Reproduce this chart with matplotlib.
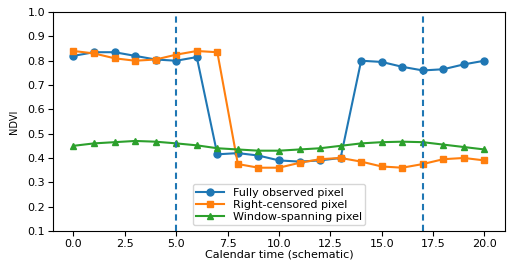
import numpy as np
import matplotlib
matplotlib.use("Agg")
import matplotlib.pyplot as plt

t = np.arange(21)

fully_observed = [0.82, 0.835, 0.835, 0.82, 0.805, 0.80, 0.815, 0.415, 0.42, 0.41, 0.39,
                  0.385, 0.39, 0.40, 0.80, 0.795, 0.775, 0.76, 0.765, 0.785, 0.80]
right_censored = [0.84, 0.83, 0.81, 0.80, 0.805, 0.825, 0.84, 0.835, 0.375, 0.36, 0.36,
                  0.38, 0.395, 0.40, 0.385, 0.365, 0.36, 0.375, 0.395, 0.40, 0.39]
window_spanning = [0.45, 0.46, 0.465, 0.47, 0.467, 0.46, 0.452, 0.44, 0.435, 0.43, 0.43,
                   0.435, 0.44, 0.45, 0.46, 0.465, 0.467, 0.465, 0.455, 0.445, 0.435]
window_edges = [5, 17]

fig = plt.figure(figsize=(5.19, 2.63), dpi=100)
ax = fig.add_axes([0.102, 0.122, 0.871, 0.832])

ax.plot(t, fully_observed, marker="o", markersize=5, label="Fully observed pixel")
ax.plot(t, right_censored, marker="s", markersize=5, label="Right-censored pixel")
ax.plot(t, window_spanning, marker="^", markersize=5, label="Window-spanning pixel")
for x in window_edges:
    ax.axvline(x, color="C0", linestyle=(0, (3, 2)), linewidth=1.5)

ax.set_ylim(0.1, 1.0)
ax.set_yticks(np.arange(0.1, 1.01, 0.1))
ax.tick_params(labelsize=8, pad=2)
ax.set_xlabel("Calendar time (schematic)", fontsize=8, labelpad=1)
ax.set_ylabel("NDVI", fontsize=7, labelpad=6)
ax.legend(loc="lower center", fontsize=8, handlelength=2.5, borderpad=0.3, labelspacing=0.2)

fig.savefig("out.png", dpi=100)
